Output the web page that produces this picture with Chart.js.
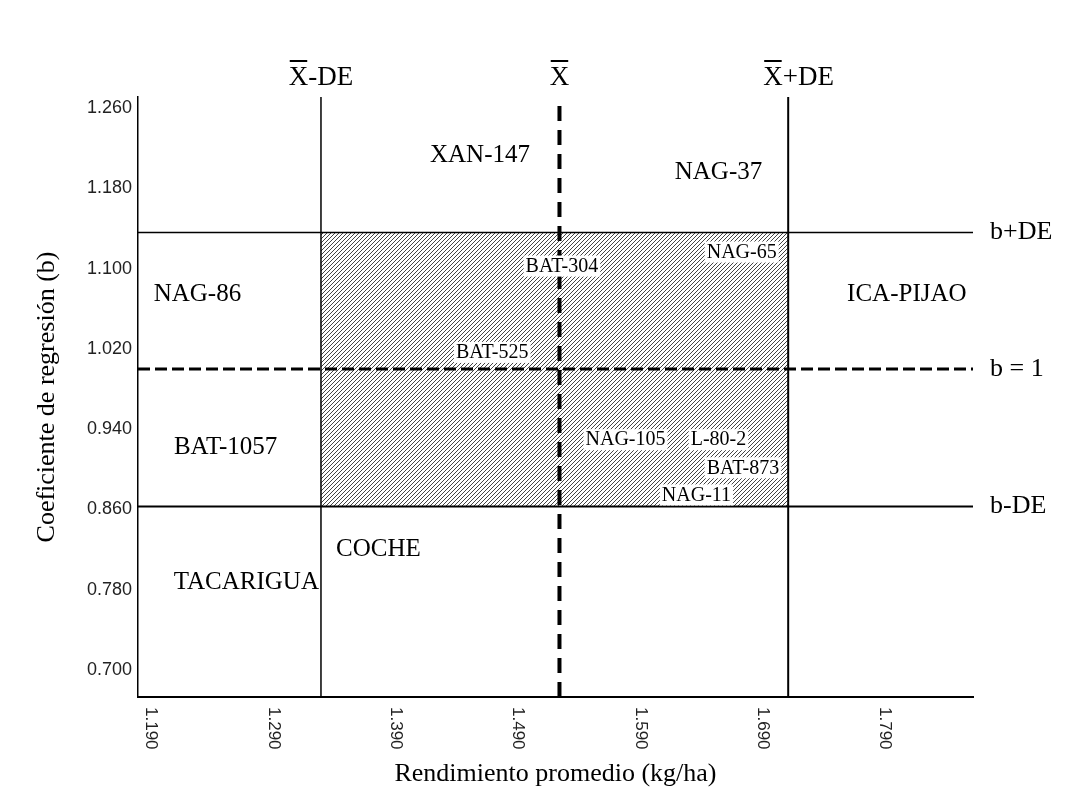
<!DOCTYPE html>
<html>
<head>
<meta charset="utf-8">
<script src="https://cdn.jsdelivr.net/npm/chart.js@4.4.1/dist/chart.umd.min.js"></script>
<style>
  body { margin: 0; background: #fff; }
  canvas { display: block; }
</style>
</head>
<body>
<canvas id="chart" width="1077" height="790"></canvas>
<script>
const xTicks = [1.19, 1.29, 1.39, 1.49, 1.59, 1.69, 1.79];
const yTicks = [0.70, 0.78, 0.86, 0.94, 1.02, 1.10, 1.18, 1.26];
const xRange = [1.1794, 1.8621];
const yRange = [0.6731, 1.2710];

// X-DE, X, X+DE  (rendimiento promedio)
const yieldLimits = [1.329, 1.524, 1.711];
// b-DE, b = 1, b+DE  (coeficiente de regresion)
const bLimits = [0.863, 1.0, 1.136];

const yieldLabels = ['-DE', '', '+DE'];
const bLabels = ['b-DE', 'b = 1', 'b+DE'];

const genotypes = ['XAN-147', 'NAG-37', 'NAG-86', 'ICA-PIJAO', 'BAT-1057', 'TACARIGUA', 'COCHE',
  'BAT-304', 'NAG-65', 'BAT-525', 'NAG-105', 'L-80-2', 'BAT-873', 'NAG-11'];
const genoYield = [1.459, 1.654, 1.228, 1.808, 1.251, 1.268, 1.376, 1.526, 1.673, 1.469, 1.578, 1.654, 1.674, 1.636];
const genoB = [1.213, 1.196, 1.074, 1.074, 0.922, 0.787, 0.820, 1.102, 1.116, 1.016, 0.929, 0.929, 0.901, 0.874];

function hatch() {
  const c = document.createElement('canvas');
  c.width = 4; c.height = 4;
  const g = c.getContext('2d');
  g.fillStyle = '#fff';
  g.fillRect(0, 0, 4, 4);
  g.strokeStyle = '#444';
  g.lineWidth = 1;
  g.beginPath();
  g.moveTo(0, 4); g.lineTo(4, 0);
  g.moveTo(-1, 1); g.lineTo(1, -1);
  g.moveTo(3, 5); g.lineTo(5, 3);
  g.stroke();
  return g.createPattern(c, 'repeat');
}

function hLine(y, width, dash) {
  return {
    data: [{ x: xRange[0], y: y }, { x: xRange[1], y: y }],
    borderColor: '#000', borderWidth: width, borderDash: dash || [],
    pointRadius: 0, fill: false, order: 1
  };
}
function vLine(x, width, dash) {
  return {
    data: [{ x: x, y: yRange[0] }, { x: x, y: yRange[1] }],
    borderColor: '#000', borderWidth: width, borderDash: dash || [],
    pointRadius: 0, fill: false, order: 1
  };
}

const textPlugin = {
  id: 'texts',
  afterDatasetsDraw(chart) {
    const { ctx, scales: { x, y } } = chart;
    ctx.save();
    ctx.textBaseline = 'middle';
    ctx.textAlign = 'center';

    // genotype names
    genotypes.forEach((name, i) => {
      const px = x.getPixelForValue(genoYield[i]);
      const py = y.getPixelForValue(genoB[i]);
      const inside = genoYield[i] > yieldLimits[0] && genoYield[i] < yieldLimits[2] &&
        genoB[i] > bLimits[0] && genoB[i] < bLimits[2];
      ctx.font = (inside ? 20 : 25) + 'px "Liberation Serif"';
      const w = ctx.measureText(name).width;
      if (inside) {
        ctx.fillStyle = '#fff';
        ctx.fillRect(px - w / 2 - 2, py - 11, w + 4, 21);
      }
      ctx.fillStyle = '#000';
      ctx.fillText(name, px, py);
    });

    // b labels at the right
    ctx.textAlign = 'left';
    ctx.font = '26px "Liberation Serif"';
    bLabels.forEach((t, i) => {
      ctx.fillText(t, x.right + 17, y.getPixelForValue(bLimits[i]));
    });

    // X-bar labels on top
    ctx.font = '27px "Liberation Serif"';
    ctx.textBaseline = 'alphabetic';
    ctx.lineWidth = 2;
    ctx.strokeStyle = '#000';
    yieldLabels.forEach((t, i) => {
      const px = x.getPixelForValue(yieldLimits[i]);
      const full = ctx.measureText('X' + t).width;
      const xw = ctx.measureText('X').width;
      const start = i === 2 ? px - 25 : px - full / 2;
      ctx.fillText('X' + t, start, 85);
      ctx.beginPath();
      ctx.moveTo(start + 1, 61);
      ctx.lineTo(start + xw - 1, 61);
      ctx.stroke();
    });

    // x tick labels, rotated clockwise
    ctx.font = '17px "Liberation Sans"';
    ctx.fillStyle = '#222';
    ctx.textBaseline = 'middle';
    x.ticks.forEach(t => {
      ctx.save();
      ctx.translate(x.getPixelForValue(t.value), 707);
      ctx.rotate(Math.PI / 2);
      ctx.fillText(t.value.toFixed(3), 0, 0);
      ctx.restore();
    });
    ctx.restore();
  }
};

const ctx = document.getElementById('chart').getContext('2d');
new Chart(ctx, {
  type: 'line',
  data: {
    datasets: [
      {
        data: [{ x: yieldLimits[0], y: bLimits[2] }, { x: yieldLimits[2], y: bLimits[2] }],
        borderWidth: 0, pointRadius: 0, fill: '+1', backgroundColor: hatch(), order: 10
      },
      {
        data: [{ x: yieldLimits[0], y: bLimits[0] }, { x: yieldLimits[2], y: bLimits[0] }],
        borderWidth: 0, pointRadius: 0, fill: false, order: 10
      },
      hLine(bLimits[2], 1.5),
      hLine(bLimits[1], 3, [12, 5]),
      hLine(bLimits[0], 2),
      vLine(yieldLimits[0], 1.5),
      vLine(yieldLimits[1], 4, [15, 9]),
      vLine(yieldLimits[2], 2)
    ]
  },
  options: {
    responsive: false,
    animation: false,
    layout: { padding: { left: 0, right: 104, top: 97, bottom: 0 } },
    plugins: { legend: { display: false }, tooltip: { enabled: false } },
    scales: {
      x: {
        type: 'linear',
        min: xRange[0], max: xRange[1],
        bounds: 'data',
        afterBuildTicks: s => { s.ticks = xTicks.map(v => ({ value: v })); },
        afterFit: s => { s.height = 93; },
        ticks: { display: false },
        grid: { display: false, drawTicks: false },
        border: { display: true, color: '#000', width: 2 },
        title: {
          display: true, text: 'Rendimiento promedio (kg/ha)', color: '#000',
          font: { family: 'Liberation Serif', size: 26 }, padding: { top: 0, bottom: 0 }
        }
      },
      y: {
        type: 'linear',
        min: yRange[0], max: yRange[1],
        bounds: 'data',
        afterBuildTicks: s => { s.ticks = yTicks.map(v => ({ value: v })); },
        afterFit: s => { s.width = 138; },
        ticks: {
          callback: v => v.toFixed(3), color: '#222', padding: 6,
          font: { family: 'Liberation Sans', size: 18 }
        },
        grid: { display: false, drawTicks: false },
        border: { display: true, color: '#000', width: 1.5 },
        title: {
          display: true, text: 'Coeficiente de regresión (b)', color: '#000',
          font: { family: 'Liberation Serif', size: 26 }, padding: { top: 32, bottom: 0 }
        }
      }
    }
  },
  plugins: [textPlugin]
});
</script>
</body>
</html>
